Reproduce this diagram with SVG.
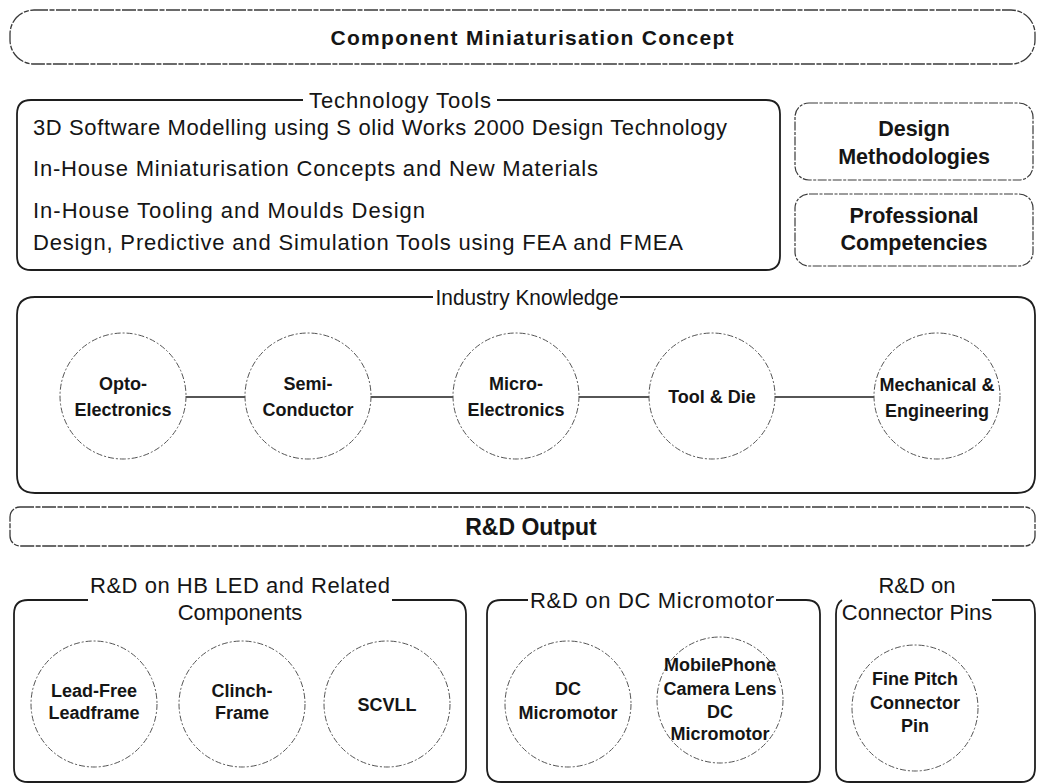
<svg xmlns="http://www.w3.org/2000/svg" width="1039" height="783" viewBox="0 0 1039 783">
  <style>
    .bg { fill: #ffffff; }
    .banner { fill: none; stroke: #3a3a3a; stroke-width: 1.3; stroke-dasharray: 14 1.5 5 1.5; }
    .frame { fill: none; stroke: #1e1e1e; stroke-width: 1.8; }
    .soft { fill: none; stroke: #3a3a3a; stroke-width: 1.2; stroke-dasharray: 9 1.5 3 1.5; }
    .bubble { fill: none; stroke: #555555; stroke-width: 1; stroke-dasharray: 6 2 2 2; }
    .link { fill: none; stroke: #1e1e1e; stroke-width: 1.6; }
    text { font-family: "Liberation Sans", Arial, Helvetica, sans-serif; fill: #151515; }
    .head { font-size: 21px; font-weight: bold; text-anchor: middle; }
    .big { font-size: 23px; font-weight: bold; text-anchor: middle; }
    .cap { font-size: 22px; text-anchor: middle; }
    .item { font-size: 22px; }
    .box { font-size: 21.5px; font-weight: bold; text-anchor: middle; }
    .lbl { font-size: 18px; font-weight: bold; text-anchor: middle; }
  </style>

  <rect class="bg" x="0" y="0" width="1039" height="783"/>

  <!-- Top banner -->
  <g id="concept">
    <rect class="banner" x="10" y="10" width="1025" height="54" rx="24" ry="24"/>
    <text class="head" x="532" y="45" textLength="403" lengthAdjust="spacing">Component Miniaturisation Concept</text>
  </g>

  <!-- Technology tools panel -->
  <g id="technology-tools">
    <path class="frame" d="M303,100 H31 Q17,100 17,114 V256 Q17,270 31,270 H766 Q780,270 780,256 V114 Q780,100 766,100 H497"/>
    <text class="cap" x="400" y="108" textLength="182" lengthAdjust="spacing">Technology Tools</text>
    <text class="item" x="33" y="135" textLength="694" lengthAdjust="spacing">3D Software Modelling using S olid Works 2000 Design Technology</text>
    <text class="item" x="33" y="176" textLength="565" lengthAdjust="spacing">In-House Miniaturisation Concepts and New Materials</text>
    <text class="item" x="33" y="218" textLength="392" lengthAdjust="spacing">In-House Tooling and Moulds Design</text>
    <text class="item" x="33" y="250" textLength="650" lengthAdjust="spacing">Design, Predictive and Simulation Tools using FEA and FMEA</text>
  </g>

  <g id="design-methodologies">
    <rect class="soft" x="795" y="103" width="238" height="77" rx="14" ry="14"/>
    <text class="box" x="914" y="136">Design</text>
    <text class="box" x="914" y="164">Methodologies</text>
  </g>

  <g id="professional-competencies">
    <rect class="soft" x="795" y="194" width="238" height="72" rx="14" ry="14"/>
    <text class="box" x="914" y="223">Professional</text>
    <text class="box" x="914" y="250">Competencies</text>
  </g>

  <!-- Industry knowledge panel -->
  <g id="industry-knowledge">
    <path class="frame" d="M433,297 H35 Q17,297 17,315 V475 Q17,493 35,493 H1017 Q1035,493 1035,475 V315 Q1035,297 1017,297 H620"/>
    <text class="cap" x="527" y="305" textLength="183" lengthAdjust="spacingAndGlyphs">Industry Knowledge</text>
  </g>

  <g id="connectors">
    <line class="link" x1="186" y1="397" x2="245" y2="397"/>
    <line class="link" x1="371" y1="397" x2="453" y2="397"/>
    <line class="link" x1="579" y1="397" x2="649" y2="397"/>
    <line class="link" x1="775" y1="397" x2="874" y2="397"/>
  </g>

  <g id="opto-electronics">
    <circle class="bubble" cx="123" cy="396" r="63"/>
    <text class="lbl" x="123" y="390">Opto-</text>
    <text class="lbl" x="123" y="416">Electronics</text>
  </g>
  <g id="semi-conductor">
    <circle class="bubble" cx="308" cy="396" r="63"/>
    <text class="lbl" x="308" y="390">Semi-</text>
    <text class="lbl" x="308" y="416">Conductor</text>
  </g>
  <g id="micro-electronics">
    <circle class="bubble" cx="516" cy="396" r="63"/>
    <text class="lbl" x="516" y="390">Micro-</text>
    <text class="lbl" x="516" y="416">Electronics</text>
  </g>
  <g id="tool-and-die">
    <circle class="bubble" cx="712" cy="396" r="63"/>
    <text class="lbl" x="712" y="403">Tool &amp; Die</text>
  </g>
  <g id="mechanical-engineering">
    <circle class="bubble" cx="937" cy="396" r="63"/>
    <text class="lbl" x="937" y="391">Mechanical &amp;</text>
    <text class="lbl" x="937" y="417">Engineering</text>
  </g>

  <!-- R&D output banner -->
  <g id="rd-output">
    <rect class="banner" x="10" y="507" width="1025" height="39" rx="10" ry="10"/>
    <text class="big" x="531" y="535">R&amp;D Output</text>
  </g>

  <!-- Output groups -->
  <g id="hb-led">
    <path class="frame" d="M88,600 H28 Q14,600 14,614 V768 Q14,782 28,782 H452 Q466,782 466,768 V614 Q466,600 452,600 H392"/>
    <text class="cap" x="240" y="593" textLength="300" lengthAdjust="spacing">R&amp;D on HB LED and Related</text>
    <text class="cap" x="240" y="620">Components</text>
  </g>
  <g id="lead-free-leadframe">
    <circle class="bubble" cx="94" cy="704" r="63"/>
    <text class="lbl" x="94" y="697">Lead-Free</text>
    <text class="lbl" x="94" y="719">Leadframe</text>
  </g>
  <g id="clinch-frame">
    <circle class="bubble" cx="242" cy="704" r="63"/>
    <text class="lbl" x="242" y="697">Clinch-</text>
    <text class="lbl" x="242" y="719">Frame</text>
  </g>
  <g id="scvll">
    <circle class="bubble" cx="387" cy="704" r="63"/>
    <text class="lbl" x="387" y="711">SCVLL</text>
  </g>

  <g id="dc-micromotor-group">
    <path class="frame" d="M528,600 H501 Q487,600 487,614 V768 Q487,782 501,782 H806 Q820,782 820,768 V614 Q820,600 806,600 H776"/>
    <text class="cap" x="652" y="608" textLength="244" lengthAdjust="spacing">R&amp;D on DC Micromotor</text>
  </g>
  <g id="dc-micromotor">
    <circle class="bubble" cx="568" cy="704" r="63"/>
    <text class="lbl" x="568" y="695">DC</text>
    <text class="lbl" x="568" y="719">Micromotor</text>
  </g>
  <g id="camera-lens-micromotor">
    <circle class="bubble" cx="720" cy="700" r="63"/>
    <text class="lbl" x="720" y="671">MobilePhone</text>
    <text class="lbl" x="720" y="695">Camera Lens</text>
    <text class="lbl" x="720" y="718">DC</text>
    <text class="lbl" x="720" y="740">Micromotor</text>
  </g>

  <g id="connector-pins-group">
    <path class="frame" d="M842,600 Q836,604 836,614 V768 Q836,782 850,782 H1021 Q1035,782 1035,768 V614 Q1035,602 1030,600 H992"/>
    <text class="cap" x="917" y="593">R&amp;D on</text>
    <text class="cap" x="917" y="620">Connector Pins</text>
  </g>
  <g id="fine-pitch-pin">
    <circle class="bubble" cx="915" cy="708" r="63"/>
    <text class="lbl" x="915" y="685">Fine Pitch</text>
    <text class="lbl" x="915" y="709">Connector</text>
    <text class="lbl" x="915" y="732">Pin</text>
  </g>
</svg>
